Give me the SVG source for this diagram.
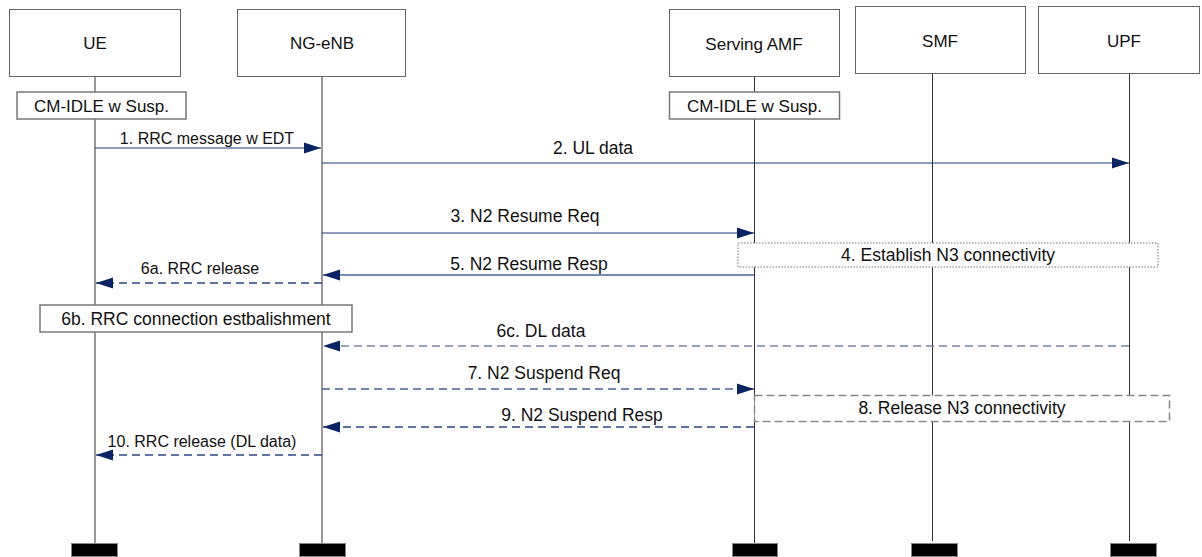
<svg xmlns="http://www.w3.org/2000/svg" width="1202" height="557" viewBox="0 0 1202 557">
<style>
text{font-family:"Liberation Sans",Arial,sans-serif;fill:#111;text-anchor:middle}
.t{font-size:17px}
.l{font-size:17.5px}
.s{font-size:16px}
.box{fill:#fff;stroke:#666;stroke-width:1}
.sbox{fill:#fff;stroke:#777;stroke-width:1.5}
.life{stroke:#333;stroke-width:1;fill:none}
.lifeg{stroke:#999;stroke-width:2;fill:none}
.bar{fill:#000;stroke:#888;stroke-width:1}
.sol{stroke:#1e3a78;stroke-width:1.2;fill:none;marker-end:url(#ah)}
.dsh{stroke:#2a4886;stroke-width:1.5;stroke-dasharray:8 5;fill:none;marker-end:url(#ah)}
</style>
<defs>
<marker id="ah" markerUnits="userSpaceOnUse" markerWidth="18" markerHeight="12" refX="17" refY="6" orient="auto">
<path d="M0,0.5 L17,6 L0,11.5 Z" fill="#0a2463"/>
</marker>
</defs>
<g id="lifelines">
<line class="life" x1="95" y1="76" x2="95" y2="544"/>
<line class="lifeg" x1="322" y1="76" x2="322" y2="544"/>
<line class="life" x1="754.5" y1="76" x2="754.5" y2="544"/>
<line class="life" x1="932.5" y1="73" x2="932.5" y2="541"/>
<line class="life" x1="1129.5" y1="73" x2="1129.5" y2="541"/>
</g>
<g id="UE"><rect class="box" x="9.5" y="9.5" width="171" height="67"/><text class="t" x="95" y="49">UE</text></g>
<g id="NG-eNB"><rect class="box" x="237.5" y="9.5" width="168" height="67"/><text class="t" x="322" y="49">NG-eNB</text></g>
<g id="AMF"><rect class="box" x="669.5" y="9.5" width="170" height="67"/><text class="t" x="754" y="50">Serving AMF</text></g>
<g id="SMF"><rect class="box" x="855.5" y="6.5" width="170" height="67"/><text class="t" x="940" y="47">SMF</text></g>
<g id="UPF"><rect class="box" x="1038.5" y="6.5" width="161" height="67"/><text class="t" x="1124" y="47">UPF</text></g>
<g id="ue-state"><rect class="sbox" x="17" y="92" width="169" height="27"/><text class="t" x="101.5" y="112">CM-IDLE w Susp.</text></g>
<g id="amf-state"><rect class="sbox" x="669.5" y="92" width="170" height="27"/><text class="t" x="754.5" y="112">CM-IDLE w Susp.</text></g>
<g id="step4"><rect x="738" y="243" width="420" height="24" fill="#fff" stroke="#777" stroke-width="1" stroke-dasharray="1.5 1.5"/><text class="l" x="948" y="261">4. Establish N3 connectivity</text></g>
<g id="step6b"><rect class="sbox" x="40" y="305" width="312" height="27"/><text class="l" x="196" y="325">6b. RRC connection estbalishment</text></g>
<g id="step8"><rect x="754.5" y="395.5" width="415" height="26" fill="#fff" stroke="#888" stroke-width="1.5" stroke-dasharray="8 4"/><text class="l" x="962" y="414">8. Release N3 connectivity</text></g>
<g id="connectors">
<line class="sol" x1="95" y1="148" x2="321" y2="148"/>
<line class="sol" x1="322" y1="163" x2="1129" y2="163"/>
<line class="sol" x1="322" y1="233" x2="754" y2="233"/>
<line class="sol" x1="754" y1="275" x2="323" y2="275" style="stroke:#4a64a0;stroke-width:1.5"/>
<line class="dsh" x1="322" y1="283" x2="96" y2="283"/>
<line class="dsh" x1="1129" y1="346" x2="323" y2="346" style="stroke:#7486ac"/>
<line class="dsh" x1="322" y1="389" x2="754" y2="389" style="stroke:#4a6098"/>
<line class="dsh" x1="754" y1="427" x2="323" y2="427"/>
<line class="dsh" x1="322" y1="455" x2="96" y2="455"/>
</g>
<g id="labels">
<text class="s" x="207" y="144">1. RRC message w EDT</text>
<text class="l" x="593" y="154">2. UL data</text>
<text class="l" x="525" y="222">3. N2 Resume Req</text>
<text class="l" x="529" y="270">5. N2 Resume Resp</text>
<text class="s" x="200" y="274">6a. RRC release</text>
<text class="l" x="541" y="337">6c. DL data</text>
<text class="l" x="544" y="379">7. N2 Suspend Req</text>
<text class="l" x="582" y="421">9. N2 Suspend Resp</text>
<text class="s" x="202" y="447">10. RRC release (DL data)</text>
</g>
<g id="bars">
<rect class="bar" x="71.5" y="543.5" width="46" height="13"/>
<rect class="bar" x="299.5" y="543.5" width="46" height="13"/>
<rect class="bar" x="732.5" y="543.5" width="45" height="13"/>
<rect class="bar" x="911.5" y="543.5" width="46" height="13"/>
<rect class="bar" x="1110.5" y="543.5" width="46" height="13"/>
</g>
</svg>
